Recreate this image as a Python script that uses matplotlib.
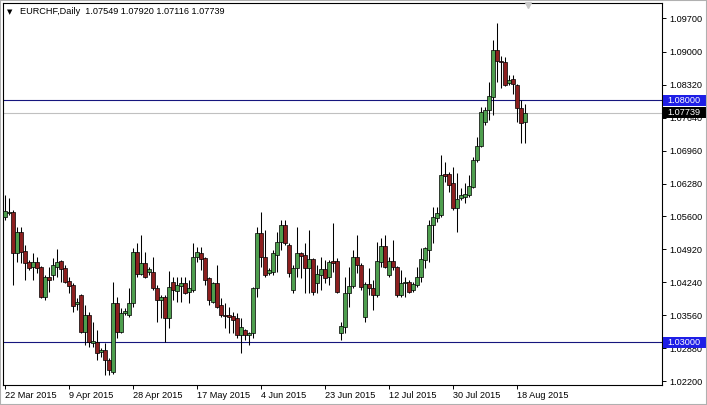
import numpy as np
import pandas as pd
import matplotlib
matplotlib.use("Agg")
import matplotlib.pyplot as plt
import matplotlib.transforms as mtransforms
from matplotlib.patches import Rectangle

# ------------------------------------------------------------
# EURCHF daily candles, 22 Mar 2015 .. 20 Aug 2015 (Sun-Fri bars)
# values
# ------------------------------------------------------------
symbol = "EURCHF,Daily"
first_day, last_day = "2015-03-22", "2015-08-20"

opens = [
    1.0559, 1.0567, 1.0569, 1.0485, 1.0528, 1.0489, 1.0466, 1.0456, 1.0466, 1.0456,
    1.0394, 1.0435, 1.0439, 1.0456, 1.0468, 1.0454, 1.0427, 1.0418, 1.0379, 1.0398,
    1.0321, 1.0356, 1.0299, 1.0301, 1.0280, 1.0284, 1.0264, 1.0239, 1.0381, 1.0321,
    1.0361, 1.0356, 1.0381, 1.0487, 1.0441, 1.0464, 1.0445, 1.0445, 1.0412, 1.0387,
    1.0394, 1.0350, 1.0425, 1.0406, 1.0416, 1.0423, 1.0404, 1.0408, 1.0476, 1.0485,
    1.0474, 1.0433, 1.0383, 1.0423, 1.0377, 1.0356, 1.0356, 1.0354, 1.0350, 1.0315,
    1.0325, 1.0315, 1.0319, 1.0412, 1.0526, 1.0476, 1.0443, 1.0445, 1.0480, 1.0507,
    1.0542, 1.0501, 1.0408, 1.0454, 1.0485, 1.0480, 1.0454, 1.0472, 1.0423, 1.0439,
    1.0451, 1.0435, 1.0468, 1.0468, 1.0319, 1.0332, 1.0402, 1.0416, 1.0476, 1.0460,
    1.0352, 1.0421, 1.0412, 1.0398, 1.0466, 1.0499, 1.0439, 1.0468, 1.0456, 1.0398,
    1.0423, 1.0425, 1.0408, 1.0418, 1.0435, 1.0470, 1.0491, 1.0542, 1.0557, 1.0563,
    1.0648, 1.0648, 1.0629, 1.0577, 1.0598, 1.0600, 1.0604, 1.0621, 1.0677, 1.0706,
    1.0755, 1.0780, 1.0807, 1.0904, 1.0881, 1.0879, 1.0836, 1.0844, 1.0832, 1.0784,
    1.07549,
]
highs = [
    1.0604, 1.0598, 1.0573, 1.0538, 1.0538, 1.0501, 1.0470, 1.0485, 1.0476, 1.0458,
    1.0439, 1.0456, 1.0474, 1.0493, 1.0470, 1.0460, 1.0435, 1.0423, 1.0392, 1.0400,
    1.0377, 1.0363, 1.0342, 1.0325, 1.0288, 1.0299, 1.0268, 1.0425, 1.0394, 1.0371,
    1.0371, 1.0412, 1.0495, 1.0505, 1.0522, 1.0487, 1.0456, 1.0476, 1.0418, 1.0398,
    1.0398, 1.0447, 1.0435, 1.0435, 1.0435, 1.0435, 1.0429, 1.0505, 1.0497, 1.0497,
    1.0476, 1.0435, 1.0425, 1.0460, 1.0392, 1.0381, 1.0373, 1.0363, 1.0361, 1.0350,
    1.0327, 1.0321, 1.0414, 1.0538, 1.0569, 1.0532, 1.0454, 1.0491, 1.0528, 1.0553,
    1.0553, 1.0505, 1.0460, 1.0538, 1.0487, 1.0505, 1.0532, 1.0474, 1.0460, 1.0476,
    1.0470, 1.0470, 1.0547, 1.0474, 1.0342, 1.0435, 1.0456, 1.0491, 1.0522, 1.0464,
    1.0425, 1.0454, 1.0429, 1.0507, 1.0516, 1.0522, 1.0476, 1.0511, 1.0458, 1.0449,
    1.0435, 1.0429, 1.0425, 1.0456, 1.0495, 1.0497, 1.0553, 1.0580, 1.0580, 1.0687,
    1.0673, 1.0652, 1.0662, 1.0650, 1.0619, 1.0629, 1.0646, 1.0683, 1.0724, 1.0786,
    1.0786, 1.0838, 1.0925, 1.0960, 1.0891, 1.0889, 1.0852, 1.0852, 1.0834, 1.0801,
    1.07920,
]
lows = [
    1.0553, 1.0563, 1.0418, 1.0466, 1.0464, 1.0429, 1.0449, 1.0429, 1.0443, 1.0392,
    1.0387, 1.0404, 1.0429, 1.0435, 1.0425, 1.0423, 1.0402, 1.0363, 1.0367, 1.0319,
    1.0295, 1.0290, 1.0290, 1.0264, 1.0270, 1.0233, 1.0233, 1.0235, 1.0309, 1.0319,
    1.0356, 1.0352, 1.0373, 1.0435, 1.0439, 1.0433, 1.0439, 1.0408, 1.0342, 1.0350,
    1.0301, 1.0330, 1.0387, 1.0383, 1.0383, 1.0400, 1.0381, 1.0404, 1.0466, 1.0449,
    1.0418, 1.0377, 1.0381, 1.0371, 1.0352, 1.0330, 1.0319, 1.0319, 1.0309, 1.0278,
    1.0305, 1.0295, 1.0309, 1.0394, 1.0456, 1.0435, 1.0439, 1.0439, 1.0445, 1.0491,
    1.0501, 1.0435, 1.0402, 1.0435, 1.0433, 1.0402, 1.0402, 1.0398, 1.0402, 1.0408,
    1.0423, 1.0418, 1.0445, 1.0402, 1.0305, 1.0319, 1.0373, 1.0412, 1.0443, 1.0408,
    1.0342, 1.0398, 1.0367, 1.0394, 1.0456, 1.0454, 1.0435, 1.0449, 1.0394, 1.0394,
    1.0394, 1.0402, 1.0404, 1.0414, 1.0425, 1.0454, 1.0466, 1.0505, 1.0549, 1.0559,
    1.0631, 1.0611, 1.0573, 1.0528, 1.0594, 1.0588, 1.0600, 1.0619, 1.0673, 1.0703,
    1.0749, 1.0759, 1.0770, 1.0838, 1.0826, 1.0830, 1.0832, 1.0813, 1.0755, 1.0712,
    1.07116,
]
closes = [
    1.0571, 1.0569, 1.0485, 1.0528, 1.0487, 1.0464, 1.0454, 1.0466, 1.0454, 1.0394,
    1.0435, 1.0429, 1.0460, 1.0466, 1.0451, 1.0425, 1.0416, 1.0375, 1.0383, 1.0321,
    1.0356, 1.0301, 1.0303, 1.0278, 1.0284, 1.0264, 1.0243, 1.0381, 1.0321, 1.0361,
    1.0365, 1.0381, 1.0487, 1.0441, 1.0464, 1.0435, 1.0451, 1.0412, 1.0387, 1.0394,
    1.0350, 1.0414, 1.0408, 1.0418, 1.0423, 1.0402, 1.0412, 1.0476, 1.0487, 1.0472,
    1.0429, 1.0387, 1.0423, 1.0373, 1.0356, 1.0354, 1.0352, 1.0346, 1.0315, 1.0332,
    1.0315, 1.0319, 1.0412, 1.0526, 1.0476, 1.0439, 1.0449, 1.0485, 1.0507, 1.0542,
    1.0505, 1.0443, 1.0454, 1.0485, 1.0478, 1.0454, 1.0472, 1.0404, 1.0441, 1.0451,
    1.0433, 1.0466, 1.0464, 1.0404, 1.0334, 1.0402, 1.0416, 1.0476, 1.0460, 1.0414,
    1.0421, 1.0412, 1.0398, 1.0468, 1.0499, 1.0456, 1.0468, 1.0456, 1.0398, 1.0423,
    1.0425, 1.0404, 1.0421, 1.0435, 1.0472, 1.0495, 1.0542, 1.0559, 1.0567, 1.0646,
    1.0644, 1.0625, 1.0577, 1.0596, 1.0604, 1.0606, 1.0623, 1.0677, 1.0706, 1.0776,
    1.0780, 1.0809, 1.0904, 1.0881, 1.0879, 1.0832, 1.0842, 1.0834, 1.0784, 1.0753,
    1.07739,
]

price_ticks = [1.0220, 1.0288, 1.0356, 1.0424, 1.0492, 1.0560, 1.0628,
               1.0696, 1.0764, 1.0832, 1.0900, 1.0970]
level_hi = 1.0800
level_lo = 1.0300
label_every = 16   # bars between date labels

FONT = "Liberation Sans"
FS = 6.6
GREEN = "#4e9e4e"
RED = "#8c1f1f"
NAVY = "#16167e"
BLUE_BOX = "#1e1ee6"

dates = pd.bdate_range(first_day, last_day, freq="C",
                       weekmask="Sun Mon Tue Wed Thu Fri")

o = np.array(opens)
h = np.array(highs)
l = np.array(lows)
c = np.array(closes)
x = np.arange(len(o))
up = c >= o

W, H = 707, 405
fig = plt.figure(figsize=(W / 100, H / 100), dpi=100)
fig.patch.set_facecolor("white")
ax = fig.add_axes([3 / W, 20 / H, 659 / W, 382 / H])

# horizontal levels + bid line
ax.axhline(level_hi, color=NAVY, lw=0.8, zorder=1)
ax.axhline(level_lo, color=NAVY, lw=0.8, zorder=1)
ax.axhline(c[-1], color="#c0c0c0", lw=0.8, zorder=1)

# candles
ax.vlines(x, l, h, color="black", lw=0.75, zorder=3)
body = np.maximum(np.abs(c - o), 0.00005)
ax.bar(x, body, bottom=np.minimum(o, c), width=0.78,
       color=np.where(up, GREEN, RED), edgecolor="black", linewidth=0.5, zorder=4)

ax.set_xlim(-0.5, 164.25)
ax.set_ylim(1.02118, 1.1001)

for s in ax.spines.values():
    s.set_color("black")
    s.set_linewidth(0.8)

# price axis on the right
ax.yaxis.tick_right()
ax.set_yticks(price_ticks)
ax.set_yticklabels([f"{v:.5f}" for v in price_ticks], fontfamily=FONT, fontsize=FS)
ax.tick_params(axis="y", direction="out", length=3, width=0.7, pad=2)

# date axis
idx = x[::label_every]
ax.set_xticks(idx)
ax.set_xticklabels([f"{d.day} {d.strftime('%b %Y')}" for d in dates[::label_every]],
                   fontfamily=FONT, fontsize=FS)
for lab in ax.get_xticklabels():
    lab.set_horizontalalignment("left")
ax.tick_params(axis="x", direction="out", length=3, width=0.7, pad=1.5)

# price boxes on the axis (they sit over the 1.07640 / 1.02880 labels, as in MT4)
tr = mtransforms.blended_transform_factory(ax.transAxes, ax.transData)
box_h = 11 / 382 * (1.1001 - 1.02118)
for val, col in [(level_hi, BLUE_BOX), (c[-1], "black"), (level_lo, BLUE_BOX)]:
    ax.add_patch(Rectangle((1.0015, val - box_h / 2), 43 / 659, box_h, transform=tr,
                           facecolor=col, edgecolor="none", clip_on=False, zorder=10))
    ax.text(1.0075, val, f"{val:.5f}", transform=tr, color="white", ha="left",
            va="center", fontfamily=FONT, fontsize=FS, zorder=11, clip_on=False)

# chart-shift marker at the top
ax.plot([0.797], [0.994], marker="v", ms=5, color="#c8c8c8", mec="#c8c8c8",
        transform=ax.transAxes, clip_on=False, zorder=5)

# header
fig.text(7 / W, 1 - 12 / H, "\u25BC", fontsize=5, va="center", ha="left",
         fontfamily="DejaVu Sans")
fig.text(20 / W, 1 - 12 / H,
         f"{symbol}  {opens[-1]:.5f} {highs[-1]:.5f} {lows[-1]:.5f} {closes[-1]:.5f}",
         fontsize=FS, va="center", ha="left", fontfamily=FONT)

# thin window border
fig.patches.append(Rectangle((0, 0), 1, 1, transform=fig.transFigure, fill=False,
                             edgecolor="#b0b0b0", lw=1.5))

fig.savefig("out.png", dpi=100)
